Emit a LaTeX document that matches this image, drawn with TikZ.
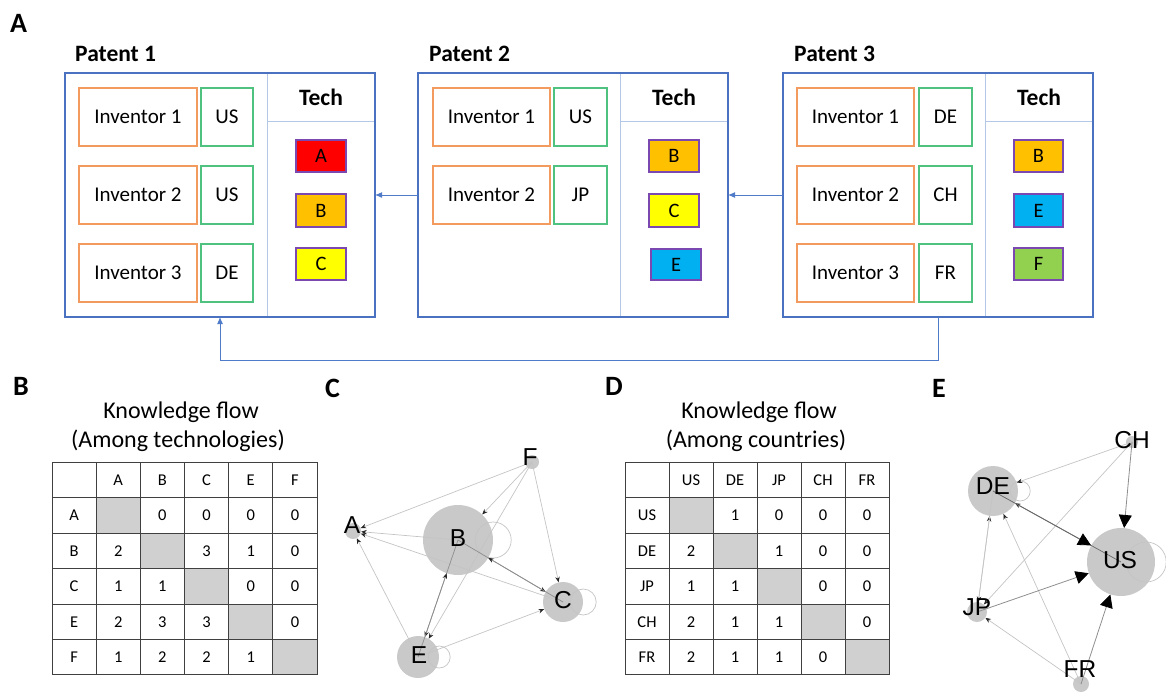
\documentclass[tikz,border=0pt]{standalone}
\usepackage{fontspec}
\setmainfont{Carlito}
\newfontfamily\arialf{Liberation Sans}
\usetikzlibrary{arrows.meta}
\definecolor{pblue}{HTML}{4A72C0}
\definecolor{lblue}{HTML}{B4C7E7}
\definecolor{cblue}{HTML}{4F7BC8}
\definecolor{invor}{HTML}{F39A5E}
\definecolor{cgreen}{HTML}{4EC27E}
\definecolor{tpurp}{HTML}{7A48B0}
\definecolor{tA}{HTML}{FF0000}
\definecolor{tB}{HTML}{FFC000}
\definecolor{tC}{HTML}{FFFF00}
\definecolor{tE}{HTML}{00B0F0}
\definecolor{tF}{HTML}{92D050}
\definecolor{dgray}{HTML}{D0D0D0}
\definecolor{ngray}{HTML}{C9C9C9}
\definecolor{egray}{HTML}{C4C4C4}
\definecolor{emid}{HTML}{8E8E8E}
\definecolor{edark}{HTML}{6A6A6A}
\definecolor{tline}{HTML}{404040}
\newcommand\bx[7]{\node[#2, minimum width={(#5)-(#3)}, minimum height={(#6)-(#4)}] (#1) at ({((#3)+(#5))/2},{((#4)+(#6))/2}) {#7};}
\begin{document}
\begin{tikzpicture}[x=1pt,y=-1pt,
  patent/.style={draw=pblue, line width=1.4pt, inner sep=0, outer sep=0},
  techcol/.style={draw=lblue, line width=1pt, inner sep=0, outer sep=0},
  techhead/.style={techcol, font=\bfseries\fontsize{23.5}{27}\selectfont},
  inv/.style={draw=invor, line width=1.4pt, inner sep=0, font=\fontsize{21}{25}\selectfont},
  ctry/.style={draw=cgreen, line width=1.4pt, inner sep=0, font=\fontsize{21}{25}\selectfont},
  tech/.style={draw=tpurp, line width=1.2pt, inner sep=0, font=\fontsize{20.5}{24}\selectfont},
  plabel/.style={anchor=base west, inner sep=0, font=\bfseries\fontsize{23.5}{27}\selectfont},
  panel/.style={anchor=base west, inner sep=0, font=\bfseries\fontsize{28}{32}\selectfont},
  title/.style={anchor=base, inner sep=0, font=\fontsize{24}{28}\selectfont},
  conn/.style={draw=cblue, line width=1pt, -{Latex[length=7pt,width=6pt]}},
  cell/.style={draw=tline, line width=0.9pt, inner sep=0, minimum height=35.4pt, font=\fontsize{16.5}{19}\selectfont},
  gn/.style={circle, fill=ngray, draw=none, inner sep=0},
  glab/.style={inner sep=0, font=\arialf\fontsize{24.5}{28}\selectfont},
  ge/.style={draw=egray, line width=0.7pt, -{Stealth[length=5.5pt,width=4.5pt,color=black!85]}},
  gem/.style={ge, draw=emid},
  ged/.style={ge, draw=edark},
  gbig/.style={draw=emid, line width=0.8pt, -{Triangle[length=13pt,width=13pt,color=black]}},
  gloop/.style={draw=egray, line width=0.7pt}
]
\useasboundingbox (0,0) rectangle (1166,693);

% ---------- Panel A ----------
\node[panel] (LA) at (10,33) {A};

% Patent 1
\bx{h1}{techhead}{267}{73}{375}{121}{Tech}
\bx{c1}{techcol}{267}{121}{375}{317}{}
\bx{p1}{patent}{65}{73}{375}{317}{}
\node[plabel] (l1) at (75,62) {Patent 1};
\bx{i11}{inv}{79}{88}{197}{146}{Inventor 1}
\bx{k11}{ctry}{201}{88}{253}{146}{US}
\bx{i12}{inv}{79}{166}{197}{224}{Inventor 2}
\bx{k12}{ctry}{201}{166}{253}{224}{US}
\bx{i13}{inv}{79}{244}{197}{302}{Inventor 3}
\bx{k13}{ctry}{201}{244}{253}{302}{DE}
\bx{t11}{tech,fill=tA}{296}{140}{346}{172}{A}
\bx{t12}{tech,fill=tB}{296}{194}{346}{227}{B}
\bx{t13}{tech,fill=tC}{296}{248}{346}{280}{C}

% Patent 2
\bx{h2}{techhead}{620}{73}{728}{121}{Tech}
\bx{c2}{techcol}{620}{121}{728}{317}{}
\bx{p2}{patent}{418}{73}{728}{317}{}
\node[plabel] (l2) at (429,62) {Patent 2};
\bx{i21}{inv}{433}{88}{550}{146}{Inventor 1}
\bx{k21}{ctry}{554}{88}{607}{146}{US}
\bx{i22}{inv}{433}{166}{550}{224}{Inventor 2}
\bx{k22}{ctry}{554}{166}{607}{224}{JP}
\bx{t21}{tech,fill=tB}{649}{140}{699}{172}{B}
\bx{t22}{tech,fill=tC}{649}{194}{699}{227}{C}
\bx{t23}{tech,fill=tE}{651}{249}{701}{280}{E}

% Patent 3
\bx{h3}{techhead}{985}{73}{1093}{121}{Tech}
\bx{c3}{techcol}{985}{121}{1093}{317}{}
\bx{p3}{patent}{783}{73}{1093}{317}{}
\node[plabel] (l3) at (794,62) {Patent 3};
\bx{i31}{inv}{797}{88}{914}{146}{Inventor 1}
\bx{k31}{ctry}{919}{88}{972}{146}{DE}
\bx{i32}{inv}{797}{166}{914}{224}{Inventor 2}
\bx{k32}{ctry}{919}{166}{972}{224}{CH}
\bx{i33}{inv}{797}{244}{914}{302}{Inventor 3}
\bx{k33}{ctry}{919}{244}{972}{302}{FR}
\bx{t31}{tech,fill=tB}{1014}{140}{1063}{172}{B}
\bx{t32}{tech,fill=tE}{1014}{194}{1063}{227}{E}
\bx{t33}{tech,fill=tF}{1014}{248}{1063}{280}{F}

% connectors
\draw[conn] (p2) -- (p1);
\draw[conn] (p3) -- (p2);
\coordinate (bend) at (220,360);
\draw[conn] (p3.south) |- (bend) -- (p1.south);

% ---------- Panel B ----------
\node[panel] (LB) at (13,395) {B};
\node[title] (kb1) at (181,418) {Knowledge flow};
\node[title] (kb2) at (178,447) {(Among technologies)};
\foreach \row [count=\i from 0] in {{x,A,B,C,E,F},{A,x,0,0,0,0},{B,2,x,3,1,0},{C,1,1,x,0,0},{E,2,3,3,x,0},{F,1,2,2,1,x}}{
  \foreach \val [count=\j from 0] in \row {
    \ifnum\i=\j\relax \def\txt{}\ifnum\i>0\relax\def\cf{dgray}\else\def\cf{white}\fi
    \else\def\txt{\val}\def\cf{white}\fi
    \node[cell, fill=\cf, minimum width=44.17pt] (tb-\i-\j) at ({52+44.17*(\j+0.5)},{462.5+35.4*(\i+0.5)}) {\txt};
  }
}

% ---------- Panel D ----------
\node[panel] (LD) at (605,395) {D};
\node[title] (kd1) at (759,418) {Knowledge flow};
\node[title] (kd2) at (756,447) {(Among countries)};
\foreach \row [count=\i from 0] in {{x,US,DE,JP,CH,FR},{US,x,1,0,0,0},{DE,2,x,1,0,0},{JP,1,1,x,0,0},{CH,2,1,1,x,0},{FR,2,1,1,0,x}}{
  \foreach \val [count=\j from 0] in \row {
    \ifnum\i=\j\relax \def\txt{}\ifnum\i>0\relax\def\cf{dgray}\else\def\cf{white}\fi
    \else\def\txt{\val}\def\cf{white}\fi
    \node[cell, fill=\cf, minimum width=44pt] (td-\i-\j) at ({625+44*(\j+0.5)},{462.5+35.4*(\i+0.5)}) {\txt};
  }
}

% ---------- Panel C ----------
\node[panel] (LC) at (325,397) {C};
\node[gn, minimum size=14pt] (F) at (532,462) {};
\node[gn, minimum size=16pt] (A) at (353,531) {};
\node[gn, minimum size=70pt] (B) at (458,540) {};
\node[gn, minimum size=40pt] (C) at (563,602) {};
\node[gn, minimum size=42pt] (E) at (418,657) {};
\draw[gloop] (B.east) circle[radius=18];
\draw[gloop] (C.east) circle[radius=13];
\draw[gloop] (E.east) circle[radius=11];
\foreach \s/\t in {B/A, C/A, E/A, F/A, F/B, F/C, F/E, E/C}
  \draw[ge] (\s.center) -- (\t);
\foreach \s/\t in {B/C, C/B, B/E, E/B}
  \draw[gem] (\s.center) -- (\t);
\node[glab] (Fl) at (530,457) {F};
\node[glab] (Al) at (352,525) {A};
\node[glab] (Bl) at (458,538) {B};
\node[glab] (Cl) at (563,600) {C};
\node[glab] (El) at (419,655) {E};

% ---------- Panel E ----------
\node[panel] (LE) at (932,397) {E};
\node[gn, minimum size=12pt] (CH) at (1132,442) {};
\node[gn, minimum size=50pt] (DE) at (993,491) {};
\node[gn, minimum size=68pt] (US) at (1121,562) {};
\node[gn, minimum size=20pt] (JP) at (977,612) {};
\node[gn, minimum size=16pt] (FR) at (1081,684) {};
\draw[gloop] (DE.east) ++(2,0) circle[radius=10];
\draw[gloop] (US.east) ++(-9,0) circle[radius=20];
\foreach \s/\t in {CH/DE, CH/JP, JP/DE, FR/DE, FR/JP, DE/JP}
  \draw[ge] (\s.center) -- (\t);
\draw[ged] (US.center) -- (DE);
\foreach \s in {CH, JP, FR}
  \draw[gbig] (\s.center) -- (US);
\draw[gbig, draw=edark] (DE.center) -- (US);
\node[glab] (CHl) at (1132,440) {CH};
\node[glab] (DEl) at (993,486) {DE};
\node[glab] (USl) at (1120,560) {US};
\node[glab] (JPl) at (977,607) {JP};
\node[glab] (FRl) at (1080,669) {FR};
\end{tikzpicture}
\end{document}
